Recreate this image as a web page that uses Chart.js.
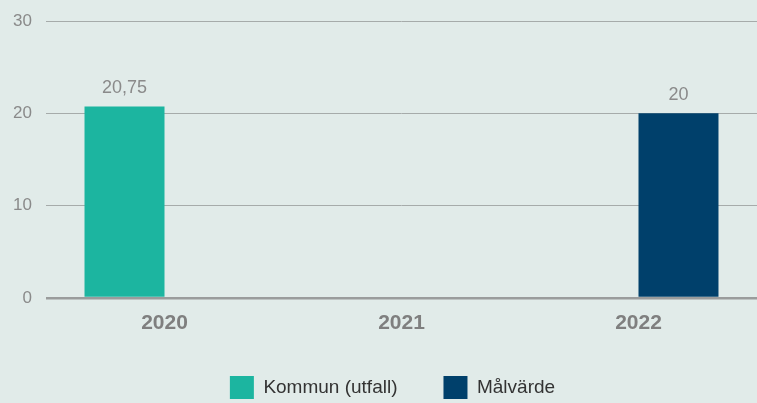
<!DOCTYPE html>
<html lang="sv">
<head>
    <meta charset="UTF-8">
    <title>Kommun (utfall) och målvärde</title>
    <script src="https://cdn.jsdelivr.net/npm/chart.js"></script>
    <style>
        html, body { margin: 0; padding: 0; background: #e1ebe9; }
        #wrap { width: 757px; height: 403px; }
    </style>
</head>
<body>
    <div id="wrap"><canvas id="chart"></canvas></div>

    <script>
        // Data
        const years = ['2020', '2021', '2022'];
        const kommunUtfall = [20.75, null, null];
        const malvarde = [null, null, 20];
        const yTicks = [0, 10, 20, 30];

        const FONT = '"Liberation Sans", Arial, sans-serif';

        // Värdeetiketter ovanför staplarna
        const valueLabels = {
            id: 'valueLabels',
            afterDatasetsDraw(chart) {
                const ctx = chart.ctx;
                ctx.save();
                ctx.font = '18px ' + FONT;
                ctx.fillStyle = '#8a8a8a';
                ctx.textAlign = 'center';
                ctx.textBaseline = 'alphabetic';
                chart.data.datasets.forEach((ds, i) => {
                    chart.getDatasetMeta(i).data.forEach((bar, j) => {
                        const v = ds.data[j];
                        if (v === null || v === undefined) return;
                        ctx.fillText(String(v).replace('.', ','), bar.x, bar.y - 13);
                    });
                });
                ctx.restore();
            }
        };

        // Flytta legenden lite åt höger (Chart.js centrerar den snett)
        const legendShift = {
            id: 'legendShift',
            afterLayout(chart) {
                chart.legend.left += 14;
                chart.legend.right += 14;
            }
        };

        new Chart(document.getElementById('chart'), {
            type: 'bar',
            data: {
                labels: years,
                datasets: [
                    { label: 'Kommun (utfall)', data: kommunUtfall, backgroundColor: '#1cb5a0' },
                    { label: 'Målvärde', data: malvarde, backgroundColor: '#00406b' }
                ]
            },
            options: {
                responsive: true,
                maintainAspectRatio: false,
                animation: false,
                categoryPercentage: 0.675,
                barPercentage: 1.0,
                layout: { padding: { top: 21, right: 0, left: 0, bottom: -6 } },
                scales: {
                    x: {
                        grid: { display: false },
                        border: { display: false },
                        ticks: {
                            color: '#7f7f7f',
                            padding: 5,
                            font: { family: FONT, size: 21, weight: 'bold' }
                        },
                        afterFit: s => { s.height = 32; }
                    },
                    y: {
                        min: 0,
                        max: 30,
                        afterBuildTicks: s => { s.ticks = yTicks.map(v => ({ value: v })); },
                        grid: {
                            drawTicks: false,
                            color: ctx => ctx.tick.value === 0 ? '#9a9c9c' : '#a6abaa',
                            lineWidth: ctx => ctx.tick.value === 0 ? 2.5 : 1
                        },
                        border: { display: false },
                        ticks: {
                            color: '#8a8a8a',
                            padding: 14,
                            font: { family: FONT, size: 17 }
                        },
                        afterFit: s => { s.width = 46; s.paddingTop = 0; s.paddingBottom = 0; }
                    }
                },
                plugins: {
                    legend: {
                        position: 'bottom',
                        labels: {
                            color: '#333333',
                            boxWidth: 24,
                            boxHeight: 23,
                            padding: 46,
                            font: { family: FONT, size: 19 }
                        }
                    },
                    tooltip: { enabled: false }
                }
            },
            plugins: [valueLabels, legendShift]
        });
    </script>
</body>
</html>
